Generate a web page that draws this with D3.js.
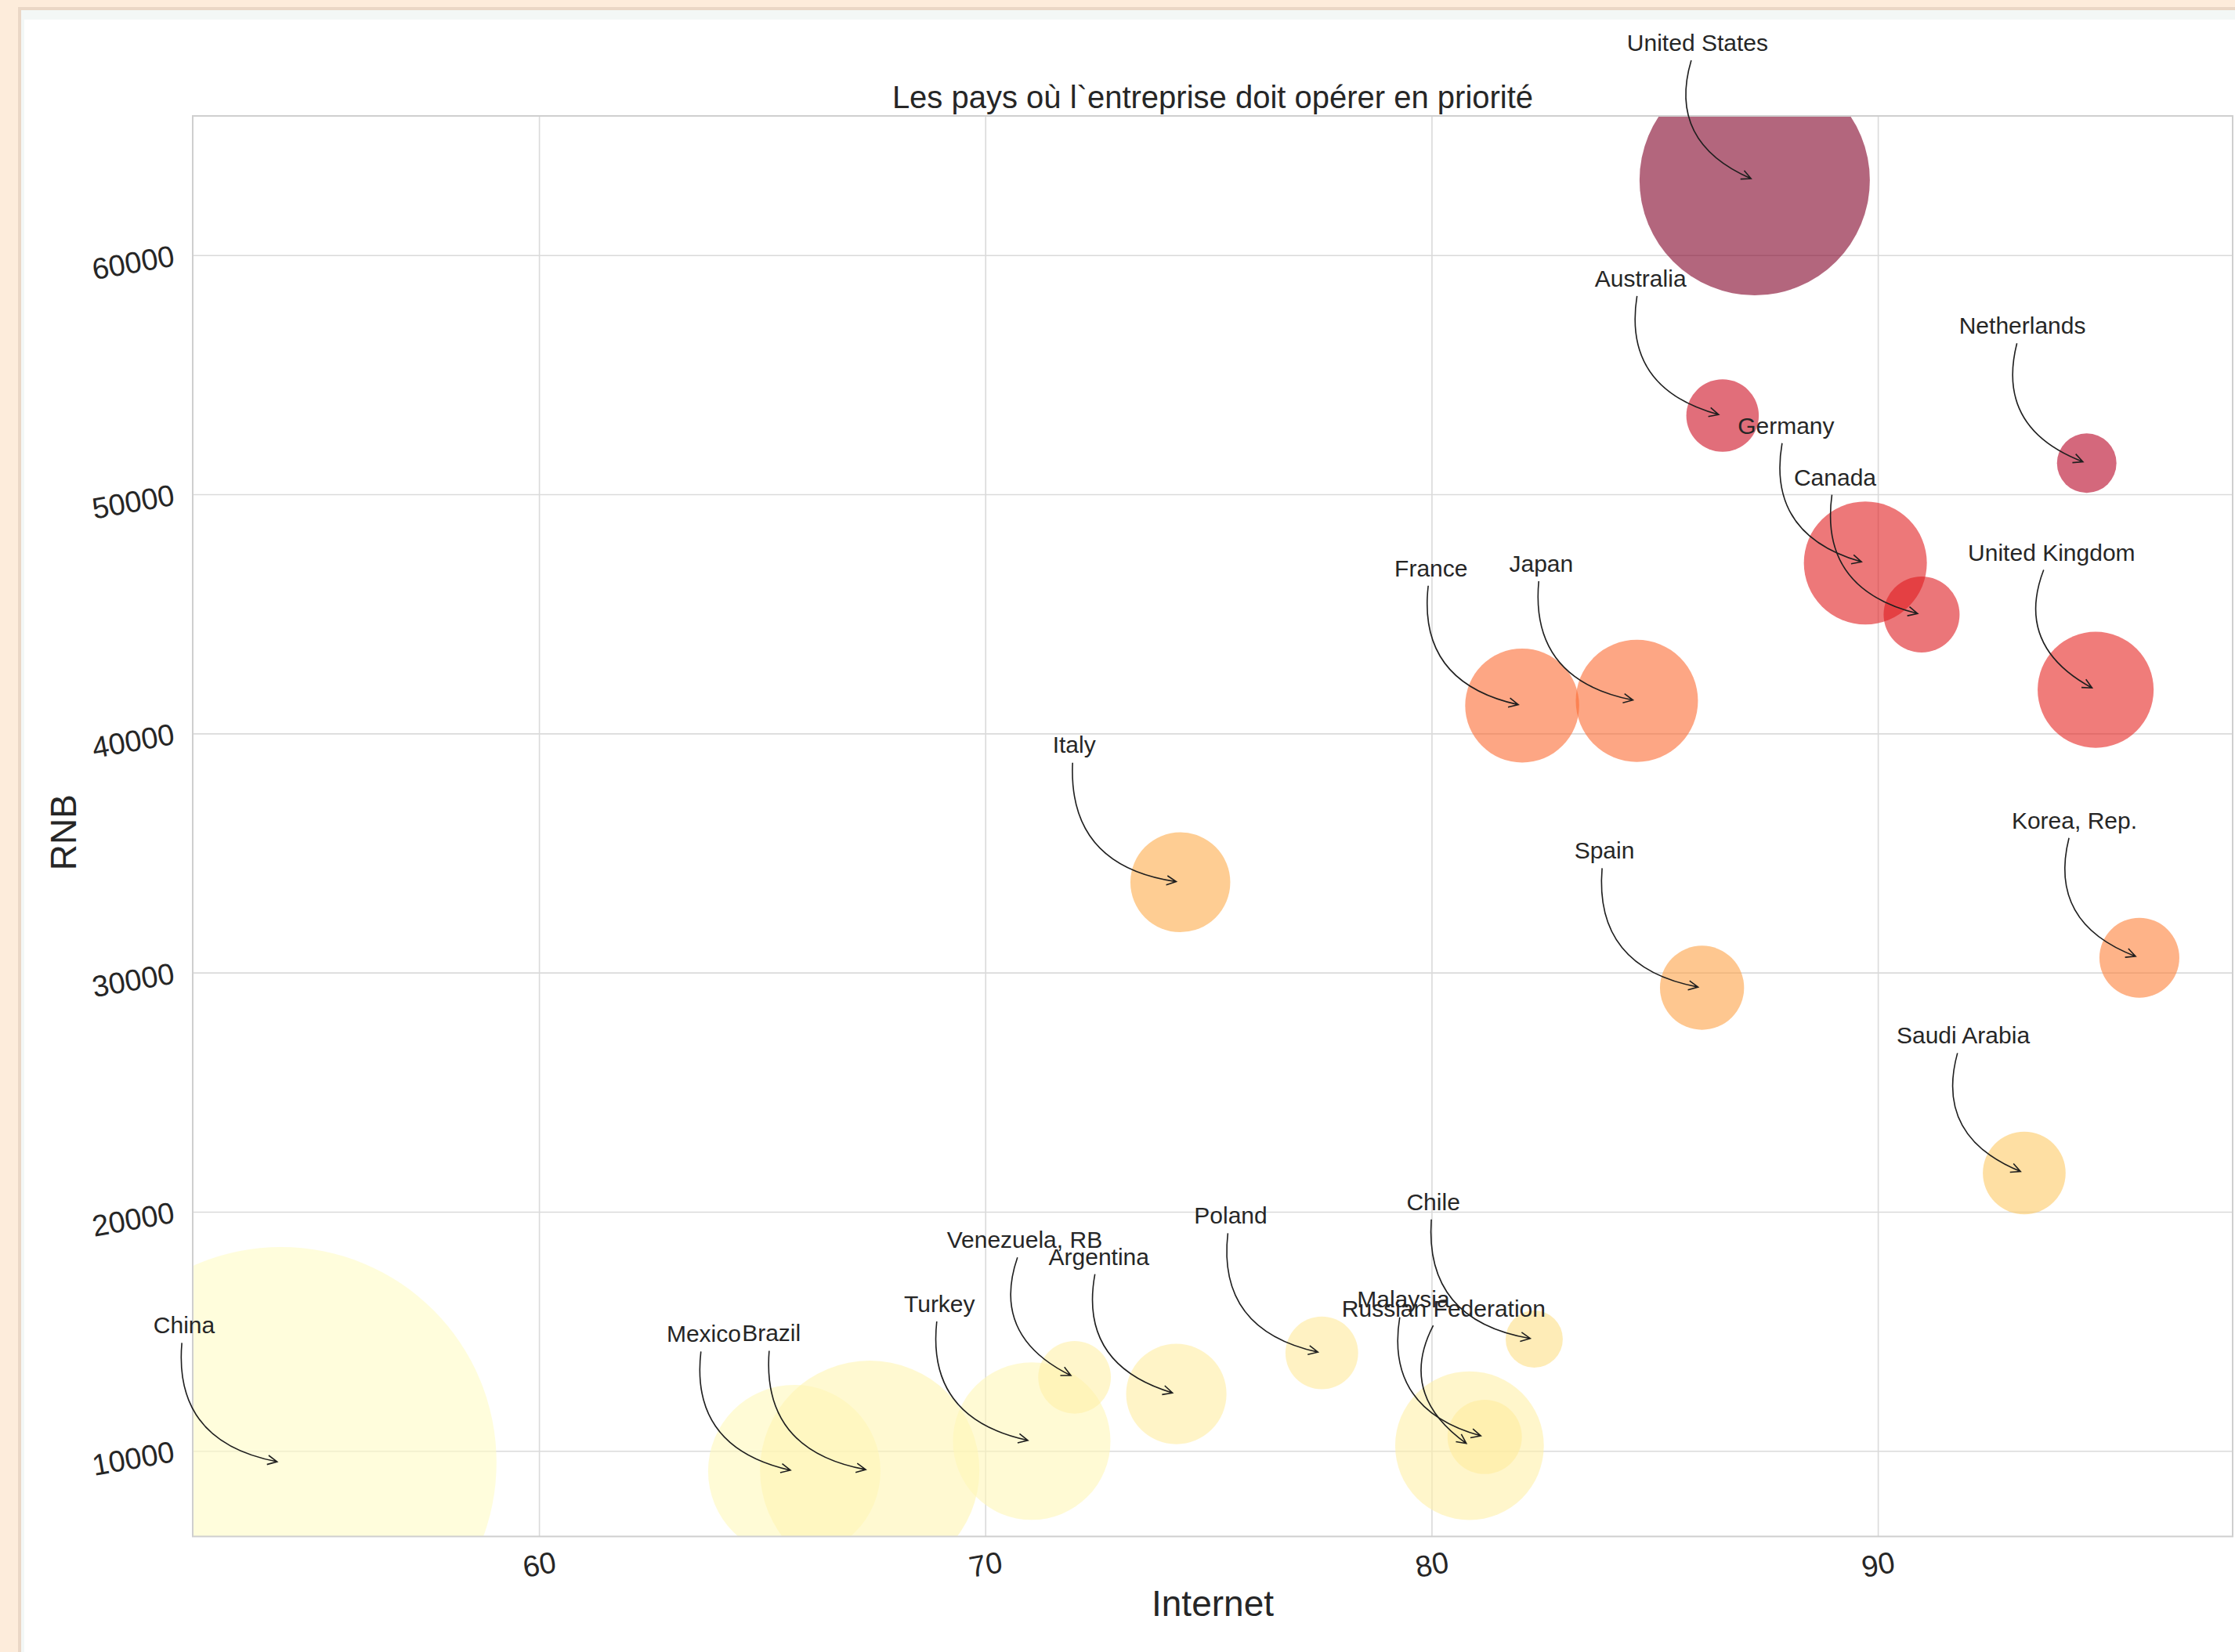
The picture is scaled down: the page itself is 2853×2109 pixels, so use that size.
<!DOCTYPE html>
<html>
<head>
<meta charset="utf-8">
<script src="https://cdn.jsdelivr.net/npm/d3@7/dist/d3.min.js"></script>
<style>
  body { margin: 0; background: #fdecdb; }
  text { font-family: "Liberation Sans", Arial, sans-serif; fill: #262626; }
</style>
</head>
<body>
<div id="chart"></div>
<script>
// données
var pays = ['China', 'Mexico', 'Brazil', 'Turkey', 'Venezuela, RB', 'Argentina', 'Poland',
            'Russian Federation', 'Malaysia', 'Chile', 'Saudi Arabia', 'Italy', 'Spain',
            'Korea, Rep.', 'France', 'Japan', 'United Kingdom', 'Germany', 'Canada',
            'Australia', 'Netherlands', 'United States'];
var internet = [54.22, 65.72, 67.41, 71.04, 72.00, 74.28, 77.54,
                80.85, 81.19, 82.30, 93.28, 74.37, 86.06,
                95.86, 82.03, 84.60, 94.88, 89.72, 90.98,
                86.52, 94.68, 87.24];
var rnb = [9519, 9158, 9191, 10410, 13080, 12382, 14098,
           10220, 10587, 14677, 21621, 33778, 29367,
           30621, 41168, 41364, 41826, 47128, 44973,
           53289, 51301, 63134];
var taille = [756, 121, 196, 101, 21.5, 41, 21.5,
              90, 22.5, 13.3, 27.9, 40.6, 28.8,
              26, 52.9, 60.8, 54.8, 61.6, 23.5,
              21.4, 14.4, 216];
var score = [0.02, 0.05, 0.07, 0.06, 0.1, 0.12, 0.14,
             0.1, 0.13, 0.2, 0.3, 0.4, 0.43,
             0.52, 0.57, 0.57, 0.73, 0.75, 0.76,
             0.82, 0.88, 1.0];
var xTicks = [60, 70, 80, 90];
var yTicks = [10000, 20000, 30000, 40000, 50000, 60000];

var W = 2853, H = 2109;
var mLeft = 246, mRight = 2850, mTop = 148, mBottom = 1961.5;

var data = pays.map(function(p, i){
  return {pays: p, internet: internet[i], rnb: rnb[i], taille: taille[i], score: score[i]};
});

var x = d3.scaleLinear().domain([52.24, 97.95]).range([mLeft, mRight]);
var y = d3.scaleLinear().domain([6424, 65820]).range([mBottom, mTop]);
var r = d3.scaleSqrt().domain([0, d3.max(taille)]).range([0, 275]);

var svg = d3.select('#chart').append('svg')
  .attr('width', W).attr('height', H);

// carte blanche du notebook
svg.append('rect').attr('x', 23).attr('y', 9).attr('width', W).attr('height', H).attr('fill', '#ead7c6');
svg.append('rect').attr('x', 27).attr('y', 13).attr('width', W).attr('height', H).attr('fill', '#f3f7f6');
svg.append('rect').attr('x', 31).attr('y', 25).attr('width', W).attr('height', H).attr('fill', '#ffffff');

svg.append('clipPath').attr('id', 'zone')
  .append('rect').attr('x', mLeft).attr('y', mTop)
  .attr('width', mRight - mLeft).attr('height', mBottom - mTop);

// grille
var gx = svg.append('g').attr('transform', 'translate(0,' + mBottom + ')')
  .call(d3.axisBottom(x).tickValues(xTicks).tickSize(-(mBottom - mTop)).tickFormat(''));
var gy = svg.append('g').attr('transform', 'translate(' + mLeft + ',0)')
  .call(d3.axisLeft(y).tickValues(yTicks).tickSize(-(mRight - mLeft)).tickFormat(''));
[gx, gy].forEach(function(g){
  g.select('.domain').remove();
  g.selectAll('line').attr('stroke', '#dadada').attr('stroke-width', 1.6);
});

// bulles
svg.append('g').attr('clip-path', 'url(#zone)')
  .selectAll('circle')
  .data(data)
  .enter()
  .append('circle')
  .attr('cx', function(d){ return x(d.internet); })
  .attr('cy', function(d){ return y(d.rnb); })
  .attr('r', function(d){ return r(d.taille); })
  .attr('fill', function(d){ return d3.interpolateYlOrRd(d.score); })
  .attr('fill-opacity', 0.6);

// cadre
svg.append('rect').attr('x', mLeft).attr('y', mTop)
  .attr('width', mRight - mLeft).attr('height', mBottom - mTop)
  .attr('fill', 'none').attr('stroke', '#cfcfcf').attr('stroke-width', 2);

// graduations
var lx = svg.append('g').attr('transform', 'translate(0,' + mBottom + ')')
  .call(d3.axisBottom(x).tickValues(xTicks).tickSize(0).tickFormat(d3.format('d')));
lx.selectAll('text')
  .attr('y', null).attr('dy', null)
  .attr('dominant-baseline', 'central')
  .attr('transform', 'translate(0,36) rotate(-10)');
var ly = svg.append('g').attr('transform', 'translate(' + mLeft + ',0)')
  .call(d3.axisLeft(y).tickValues(yTicks).tickSize(0).tickFormat(d3.format('d')));
ly.selectAll('text')
  .attr('x', null).attr('dy', null)
  .attr('dominant-baseline', 'central')
  .attr('text-anchor', 'end')
  .attr('transform', 'translate(-24,0) rotate(-10)');
[lx, ly].forEach(function(g){
  g.select('.domain').remove();
  g.selectAll('text').attr('font-size', 38).attr('font-family', null).attr('fill', '#262626');
});

// titres
svg.append('text').attr('x', (mLeft + mRight) / 2).attr('y', 138)
  .attr('text-anchor', 'middle').attr('font-size', 40)
  .text("Les pays où l`entreprise doit opérer en priorité");
svg.append('text').attr('x', (mLeft + mRight) / 2).attr('y', 2063)
  .attr('text-anchor', 'middle').attr('font-size', 46)
  .text('Internet');
svg.append('text').attr('transform', 'translate(97,' + ((mTop + mBottom) / 2 + 8) + ') rotate(-90)')
  .attr('text-anchor', 'middle').attr('font-size', 46)
  .text('RNB');

// annotations avec flèches courbes (arc3)
var rad = 0.5, shrinkA = 6, shrinkB = 5;
var gArrows = svg.append('g');
var gLabels = svg.append('g');

function bez(p0, p1, p2, t){
  var u = 1 - t;
  return [u*u*p0[0] + 2*u*t*p1[0] + t*t*p2[0], u*u*p0[1] + 2*u*t*p1[1] + t*t*p2[1]];
}

data.forEach(function(d){
  var px = x(d.internet), py = y(d.rnb);
  var label = gLabels.append('text')
    .attr('x', px - 163).attr('y', py - 165)
    .attr('font-size', 30)
    .text(d.pays);
  var bb = label.node().getBBox();
  var p0 = [bb.x + bb.width / 2, bb.y + bb.height / 2];
  var p2 = [px, py];
  var dx = p2[0] - p0[0], dy = p2[1] - p0[1];
  var p1 = [(p0[0] + p2[0]) / 2 - rad * dy, (p0[1] + p2[1]) / 2 + rad * dx];

  // echantillonnage de la courbe
  var pts = d3.range(0, 1001).map(function(i){ return bez(p0, p1, p2, i / 1000); });
  var len = [0];
  for (var i = 1; i < pts.length; i++) {
    len.push(len[i-1] + Math.hypot(pts[i][0] - pts[i-1][0], pts[i][1] - pts[i-1][1]));
  }
  var iOut = 0;
  while (iOut < pts.length - 1 && pts[iOut][0] >= bb.x && pts[iOut][0] <= bb.x + bb.width &&
         pts[iOut][1] >= bb.y && pts[iOut][1] <= bb.y + bb.height) iOut++;
  var i0 = iOut;
  while (i0 < pts.length - 1 && len[i0] - len[iOut] < shrinkA) i0++;
  var total = len[len.length - 1];
  var i1 = pts.length - 1;
  while (i1 > i0 && total - len[i1] < shrinkB) i1--;
  var a = i0 / 1000, b = i1 / 1000;
  var s = bez(p0, p1, p2, a), e = bez(p0, p1, p2, b);
  var c = [(1-a)*(1-b)*p0[0] + ((1-a)*b + a*(1-b))*p1[0] + a*b*p2[0],
           (1-a)*(1-b)*p0[1] + ((1-a)*b + a*(1-b))*p1[1] + a*b*p2[1]];
  var path = d3.path();
  path.moveTo(s[0], s[1]);
  path.quadraticCurveTo(c[0], c[1], e[0], e[1]);

  // tete de fleche "->"
  var tx = e[0] - c[0], ty = e[1] - c[1], tl = Math.hypot(tx, ty);
  tx /= tl; ty /= tl;
  var hl = 13.5, ang = 26 * Math.PI / 180;
  function wing(sg){
    var ca = Math.cos(sg * ang), sa = Math.sin(sg * ang);
    return [e[0] - hl * (tx * ca - ty * sa), e[1] - hl * (tx * sa + ty * ca)];
  }
  var w1 = wing(1), w2 = wing(-1);
  path.moveTo(w1[0], w1[1]);
  path.lineTo(e[0], e[1]);
  path.lineTo(w2[0], w2[1]);

  gArrows.append('path')
    .attr('d', path.toString())
    .attr('fill', 'none')
    .attr('stroke', '#1f1f1f')
    .attr('stroke-width', 1.6);
});
</script>
</body>
</html>
